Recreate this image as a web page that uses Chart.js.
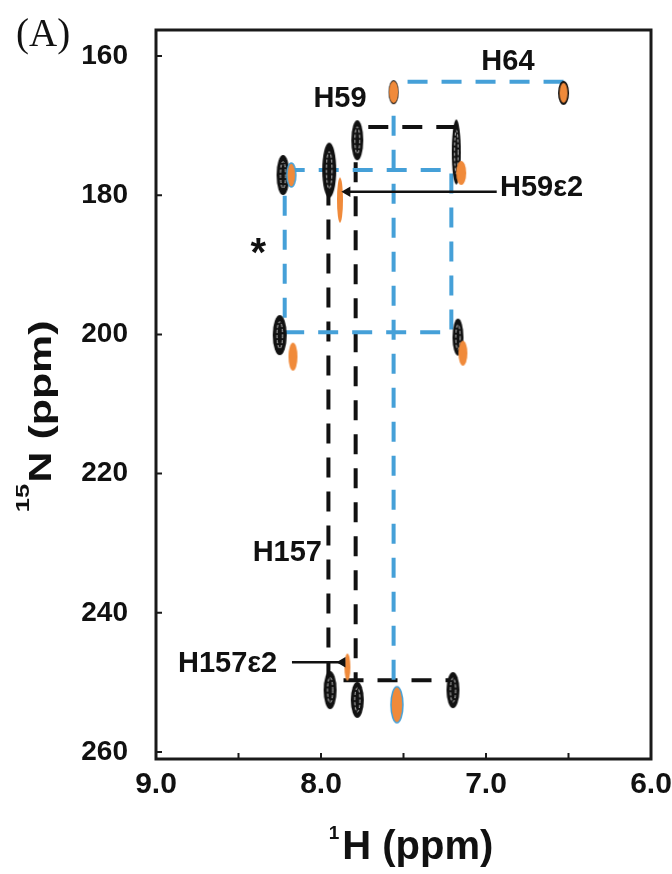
<!DOCTYPE html>
<html>
<head>
<meta charset="utf-8">
<script src="https://cdn.jsdelivr.net/npm/chart.js@4.4.1/dist/chart.umd.min.js"></script>
<style>
  html, body { margin: 0; padding: 0; background: #fff; }
  #wrap { width: 672px; height: 874px; position: relative; }
</style>
</head>
<body>
<div id="wrap"><canvas id="hmqc"></canvas></div>
<script>
'use strict';

// peak positions (1H ppm, 15N ppm)
const blackPeaksH = [7.95, 7.78, 7.18, 8.23, 8.25, 7.17, 7.945, 7.78, 7.2, 6.53, 7.56];
const blackPeaksN = [176.4, 172.1, 173.8, 177.1, 200.1, 200.4, 251.1, 252.5, 251.1, 165.3, 165.2];
const orangePeaksH = [7.56, 6.53, 8.18, 7.15, 7.885, 8.17, 7.14, 7.54, 7.84];
const orangePeaksN = [165.2, 165.3, 177.1, 176.8, 180.7, 203.2, 202.7, 253.2, 247.8];

// connectivity paths
const h64PathH = [6.53, 7.56, 7.56];
const h64PathN = [163.7, 163.7, 250];
const starPathH = [8.22, 7.21, 7.21, 8.22, 8.22];
const starPathN = [176.4, 176.4, 199.7, 199.7, 176.4];
const h59PathH = [7.18, 7.79, 7.79];
const h59PathN = [170.2, 170.2, 249.7];
const h157PathH = [7.955, 7.955, 7.2];
const h157PathN = [178.6, 249.7, 249.7];

// arrows for the epsilon2 peaks (tail -> head)
const h59e2ArrowH = [6.935, 7.84];
const h59e2ArrowN = [179.5, 179.5];
const h157e2ArrowH = [8.176, 7.87];
const h157e2ArrowN = [247.1, 247.1];

// labels
const labelText = ['H64', 'H59', 'H59\u03b52', 'H157', 'H157\u03b52', '*'];
const labelH = [6.867, 7.885, 6.915, 7.994, 8.867, 8.38];
const labelN = [160.9, 166.2, 179.0, 231.4, 247.4, 188.6];
const labelAlign = ['center', 'center', 'left', 'right', 'left', 'center'];

// ticks
const xTicks = [9.0, 8.0, 7.0, 6.0];
const xMinorTicks = [9.0, 8.5, 8.0, 7.5, 7.0, 6.5, 6.0];
const yTicks = [160, 180, 200, 220, 240, 260];

const BLUE = '#45a0d8';
const ORANGE = '#f08a3a';
const INK = '#111';
const SANS = '"Liberation Sans", Arial, sans-serif';

function toPoints(xs, ys) {
  return xs.map((x, i) => ({ x: x, y: ys[i] }));
}

// small canvases used as point styles (contour blobs)
function makePeak(w, h, fill, edge, inner) {
  const c = document.createElement('canvas');
  c.width = w + 4;
  c.height = h + 4;
  const g = c.getContext('2d');
  const cx = c.width / 2;
  const cy = c.height / 2;
  g.beginPath();
  g.ellipse(cx, cy, w / 2, h / 2, 0, 0, Math.PI * 2);
  g.fillStyle = fill;
  g.fill();
  if (edge) {
    g.lineWidth = 1.5;
    g.strokeStyle = edge;
    g.stroke();
  }
  if (inner) {
    g.beginPath();
    g.ellipse(cx, cy, w / 5, h / 3, 0, 0, Math.PI * 2);
    g.lineWidth = 1;
    g.strokeStyle = inner;
    g.setLineDash([3, 2]);
    g.stroke();
  }
  return c;
}

const blackShapes = [
  [14, 55], [12, 40], [9, 65], [13, 40], [14, 40], [11, 37],
  [13, 38], [13, 36], [13, 36], [11, 24], [10, 24]
].map((s) => makePeak(s[0], s[1], INK, null, '#ccc'));

const orangeShapes = [
  [9, 22, null], [8, 20, null], [9, 24, BLUE], [10, 24, null], [6, 45, null],
  [9, 28, null], [9, 25, null], [12, 36, BLUE], [6, 27, null]
].map((s) => makePeak(s[0], s[1], ORANGE, s[2]));

function pathDataset(xs, ys, color, order) {
  return {
    type: 'line',
    data: toPoints(xs, ys),
    borderColor: color,
    borderWidth: 4,
    borderDash: [20, 14],
    pointRadius: 0,
    fill: false,
    tension: 0,
    order: order,
  };
}

function arrowDataset(xs, ys) {
  return {
    type: 'line',
    data: toPoints(xs, ys),
    borderColor: INK,
    backgroundColor: INK,
    borderWidth: 2.5,
    pointStyle: 'triangle',
    pointRotation: -90,
    pointRadius: (ctx) => (ctx.dataIndex === 1 ? 6 : 0),
    pointBorderWidth: 0,
    fill: false,
    order: 0,
  };
}

// frame, inner ticks, axis titles and peak labels
const decorations = {
  id: 'decorations',
  afterDatasetsDraw(chart) {
    const { ctx, chartArea: a, scales } = chart;
    const x = scales.x;
    const y = scales.y;
    ctx.save();
    ctx.strokeStyle = '#1a1a1a';
    ctx.lineWidth = 3;
    ctx.strokeRect(a.left, a.top, a.right - a.left, a.bottom - a.top);

    ctx.lineWidth = 2;
    ctx.beginPath();
    xMinorTicks.forEach((v) => {
      const px = x.getPixelForValue(v);
      ctx.moveTo(px, a.bottom);
      ctx.lineTo(px, a.bottom - 6);
    });
    yTicks.forEach((v) => {
      const py = y.getPixelForValue(v);
      ctx.moveTo(a.left, py);
      ctx.lineTo(a.left + 6, py);
    });
    ctx.stroke();

    ctx.fillStyle = INK;
    ctx.textBaseline = 'middle';
    labelText.forEach((t, i) => {
      ctx.font = t === '*' ? 'bold 40px ' + SANS : 'bold 29px ' + SANS;
      ctx.textAlign = labelAlign[i];
      ctx.fillText(t, x.getPixelForValue(labelH[i]), y.getPixelForValue(labelN[i]));
    });

    // x title with superscript
    ctx.textBaseline = 'alphabetic';
    ctx.textAlign = 'left';
    const mainFont = 'bold 40px ' + SANS;
    const supFont = 'bold 19px ' + SANS;
    ctx.font = supFont;
    const supW = ctx.measureText('1').width;
    ctx.font = mainFont;
    const mainW = ctx.measureText('H (ppm)').width;
    const sx = (a.left + a.right) / 2 - (supW + mainW) / 2 + 6;
    ctx.font = supFont;
    ctx.fillText('1', sx, 839);
    ctx.font = mainFont;
    ctx.fillText('H (ppm)', sx + supW + 3, 859);

    // y title, rotated and stretched along the text like the original figure
    ctx.translate(51, 417);
    ctx.rotate(-Math.PI / 2);
    ctx.scale(1.34, 1);
    const yMain = 'bold 32px ' + SANS;
    const ySup = 'bold 19px ' + SANS;
    ctx.font = ySup;
    const ySupW = ctx.measureText('15').width;
    ctx.font = yMain;
    const yMainW = ctx.measureText('N (ppm)').width;
    const start = -(ySupW + yMainW) / 2;
    ctx.font = ySup;
    ctx.fillText('15', start, -22);
    ctx.font = yMain;
    ctx.fillText('N (ppm)', start + ySupW + 1, 0);
    ctx.restore();

    // panel tag
    ctx.save();
    ctx.fillStyle = INK;
    ctx.font = '39px "Liberation Serif", "Times New Roman", serif';
    ctx.textBaseline = 'alphabetic';
    ctx.textAlign = 'left';
    ctx.fillText('(A)', 16, 46);
    ctx.restore();
  },
};

const chart = new Chart(document.getElementById('hmqc'), {
  type: 'scatter',
  data: {
    datasets: [
      {
        data: toPoints(orangePeaksH, orangePeaksN),
        pointStyle: orangeShapes,
        order: 1,
      },
      {
        data: toPoints(blackPeaksH, blackPeaksN),
        pointStyle: blackShapes,
        order: 2,
      },
      pathDataset(h64PathH, h64PathN, BLUE, 3),
      pathDataset(starPathH, starPathN, BLUE, 3),
      pathDataset(h59PathH, h59PathN, INK, 3),
      pathDataset(h157PathH, h157PathN, INK, 3),
      arrowDataset(h59e2ArrowH, h59e2ArrowN),
      arrowDataset(h157e2ArrowH, h157e2ArrowN),
    ],
  },
  options: {
    responsive: true,
    maintainAspectRatio: false,
    animation: false,
    layout: { padding: { top: 30, right: 21, left: 0, bottom: 0 } },
    plugins: {
      legend: { display: false },
      tooltip: { enabled: false },
    },
    scales: {
      x: {
        type: 'linear',
        min: 6.0,
        max: 9.0,
        reverse: true,
        grid: { display: false },
        border: { display: false },
        afterFit: (scale) => {
          scale.height = 115;
          scale.paddingLeft = 0;
          scale.paddingRight = 0;
        },
        afterBuildTicks: (scale) => { scale.ticks = xTicks.map((v) => ({ value: v })); },
        ticks: {
          color: INK,
          padding: 0,
          font: { family: SANS, size: 30, weight: 'bold' },
          callback: (v) => v.toFixed(1),
        },
      },
      y: {
        type: 'linear',
        min: 156.27,
        max: 261.0,
        reverse: true,
        grid: { display: false },
        border: { display: false },
        afterFit: (scale) => {
          scale.width = 156;
          scale.paddingTop = 0;
          scale.paddingBottom = 0;
        },
        afterBuildTicks: (scale) => { scale.ticks = yTicks.map((v) => ({ value: v })); },
        ticks: {
          color: INK,
          padding: 20,
          font: { family: SANS, size: 28, weight: 'bold' },
        },
      },
    },
  },
  plugins: [decorations],
});
</script>
</body>
</html>
